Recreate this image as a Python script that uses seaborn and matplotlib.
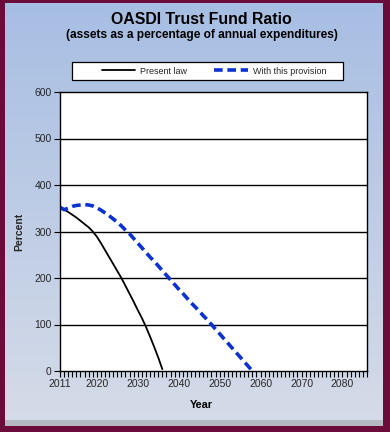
import numpy as np
import pandas as pd
import matplotlib
matplotlib.use("Agg")
import matplotlib.pyplot as plt
import seaborn as sns
from matplotlib.patches import Rectangle
from matplotlib.ticker import MultipleLocator

# ---- data ----
present_years = list(range(2011, 2037))
present_law = [352, 347, 342, 336, 330, 323, 316, 309, 300, 289, 275, 260, 245,
               230, 215, 200, 183, 166, 149, 131, 114, 95, 74, 52, 29, 4]

prov_years = list(range(2011, 2059))
with_provision = [352, 347, 350, 354, 356, 357, 358, 357, 355, 351, 346, 340, 334,
                  327, 320, 312, 303, 295, 285, 275, 265, 255, 245, 236, 226, 216,
                  206, 196, 186, 176, 167, 157, 147, 138, 129, 119, 110, 100, 90,
                  80, 70, 60, 50, 40, 30, 20, 10, 0]

series_names = ["Present law", "With this provision"]
title = "OASDI Trust Fund Ratio"
subtitle = "(assets as a percentage of annual expenditures)"
x_ticklabels = [2011, 2020, 2030, 2040, 2050, 2060, 2070, 2080]
y_ticks = [0, 100, 200, 300, 400, 500, 600]

df = pd.concat([
    pd.DataFrame({"Year": present_years, "Percent": present_law, "Series": series_names[0]}),
    pd.DataFrame({"Year": prov_years, "Percent": with_provision, "Series": series_names[1]}),
])

sns.set_style("white")
plt.rcParams["font.family"] = ["Liberation Sans", "DejaVu Sans"]

W, H = 390, 432
fig = plt.figure(figsize=(W / 100, H / 100), dpi=100)
fig.patch.set_facecolor("#6b0b3a")

def fx(px):
    return px / W

def fy(py):
    return 1 - py / H

# gradient panel
bg = fig.add_axes([fx(5), fy(420), fx(383) - fx(5), fy(3) - fy(420)], zorder=-5)
grad = np.linspace(0, 1, 256)[:, None]
top = np.array([0.655, 0.745, 0.890])
bot = np.array([0.835, 0.860, 0.910])
img = top[None, None, :] * (1 - grad[:, :, None]) + bot[None, None, :] * grad[:, :, None]
bg.imshow(img, aspect="auto", extent=[0, 1, 0, 1])
bg.set_axis_off()
# bevel at bottom
fig.patches.append(Rectangle((fx(5), fy(426)), fx(383) - fx(5), fy(420) - fy(426),
                             transform=fig.transFigure, facecolor="#b4b8c0",
                             edgecolor="none", zorder=-4))

ax = fig.add_axes([fx(60), fy(371), fx(367) - fx(60), fy(92) - fy(371)])
ax.set_facecolor("white")

sns.lineplot(data=df[df.Series == series_names[0]], x="Year", y="Percent", ax=ax,
             color="black", linewidth=1.3, label=series_names[0])
sns.lineplot(data=df[df.Series == series_names[1]], x="Year", y="Percent", ax=ax,
             color="#0a32d2", linewidth=2.6, label=series_names[1],
             linestyle=(0, (2.4, 1.3)))

ax.set_xlim(2011, 2086)
ax.set_ylim(0, 600)
ax.set_yticks(y_ticks)
ax.set_xticks(x_ticklabels)
ax.xaxis.set_minor_locator(MultipleLocator(1))
ax.tick_params(axis="x", which="both", direction="out", length=4, width=0.8,
               color="black", labelsize=7.5, pad=2, bottom=True)
ax.tick_params(axis="y", direction="out", length=4, width=0.8, color="black",
               labelsize=7.5, pad=2, left=True)
for y in y_ticks[1:-1]:
    ax.axhline(y, color="black", linewidth=1.0, zorder=0.5)
for s in ax.spines.values():
    s.set_color("black")
    s.set_linewidth(1.0)
ax.set_xlabel("")
ax.set_ylabel("Percent", fontsize=7.5, fontweight="bold", labelpad=7)

ax.get_legend().remove()
handles, labels = ax.get_legend_handles_labels()

# legend box
fig.patches.append(Rectangle((fx(72), fy(80)), fx(343) - fx(72), fy(62) - fy(80),
                             transform=fig.transFigure, facecolor="white",
                             edgecolor="black", linewidth=0.9, zorder=2))
leg = fig.legend(handles, labels, ncol=2, loc="center left",
                 bbox_to_anchor=(fx(102), fy(71)), frameon=False, fontsize=6.5,
                 handlelength=3.7, handletextpad=0.55, borderpad=0,
                 borderaxespad=0, columnspacing=3.0)
leg.set_zorder(3)

fig.text(fx(201), fy(20), title, ha="center", va="center", fontsize=11.4,
         fontweight="bold", color="black")
fig.text(fx(202), fy(35), subtitle, ha="center", va="center", fontsize=8.6,
         fontweight="bold", color="black")
fig.text(fx(201), fy(405), "Year", ha="center", va="center", fontsize=7.8,
         fontweight="bold", color="black")

fig.savefig("out.png", dpi=100, facecolor=fig.get_facecolor())
